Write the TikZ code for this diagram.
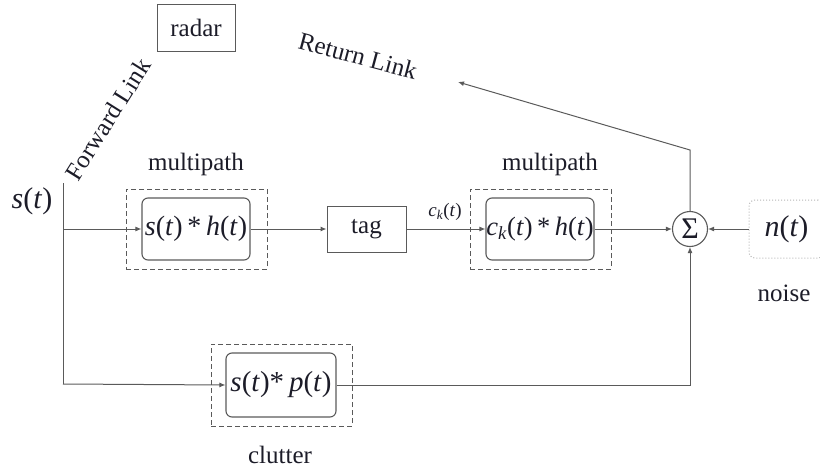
\documentclass[tikz,border=0pt]{standalone}
\usepackage{fontspec}
\setmainfont{Liberation Serif}
\usetikzlibrary{arrows.meta,calc}
\definecolor{wire}{HTML}{5A5A5A}
\definecolor{ink}{HTML}{1C1C28}
\newcommand{\mv}[1]{\textit{#1}}
\tikzset{
  wirestyle/.style={draw=wire,line width=1pt},
  flow/.style={wirestyle,-{Latex[length=6pt,width=5pt]}},
  plainbox/.style={draw=wire,line width=1pt,minimum width=#1,minimum height=46pt,inner sep=0pt,text=ink,font=\fontsize{25}{30}\selectfont},
  opbox/.style={draw=wire,line width=1.1pt,rounded corners=6pt,minimum width=#1,minimum height=62pt,inner sep=0pt,text=ink,font=\fontsize{28}{32}\selectfont},
  groupbox/.style={draw=wire,line width=1pt,dash pattern=on 5pt off 3pt,inner sep=0pt},
  caption/.style={text=ink,font=\fontsize{25}{30}\selectfont,inner sep=0pt},
  mathlabel/.style={text=ink,font=\fontsize{30}{34}\selectfont,inner sep=0pt},
}
\begin{document}
\begin{tikzpicture}[x=1pt,y=-1pt]
\useasboundingbox (0,0) rectangle (820,471);

% radar and the two links
\node[plainbox=78pt,minimum height=47pt] (radar) at (196,27.5) {radar};
\node[caption,rotate=57.8] (fwd) at (108,119) {Forward Link};
\node[caption,rotate=-15] (ret) at (358,56) {Return Link};

% source signal
\node[mathlabel] (src) at (32,201) {\mv{s}(\mv{t})};
\coordinate (top) at (63,183);
\coordinate (split) at (63,229);
\coordinate (low) at (63,384);

% multipath block before the tag
\node[groupbox,minimum width=141pt,minimum height=80pt] (mp1) at (196.5,229) {};
\node[opbox=108pt] (h1) at (196,229) {\mv{s}(\mv{t})\,*\,\mv{h}(\mv{t})};
\node[caption] (mp1lbl) at (196,164) {multipath};

% tag
\node[plainbox=79pt] (tag) at (366.5,229) {tag};
\node[text=ink,font=\fontsize{19}{22}\selectfont,inner sep=0pt] (cklbl) at (445,212) {\mv{c}\textsubscript{\mv{k}}(\mv{t})};

% multipath block after the tag
\node[groupbox,minimum width=141pt,minimum height=80pt] (mp2) at (540.5,229) {};
\node[opbox=108pt,font=\fontsize{26.5}{30}\selectfont] (h2) at (540,229) {\mv{c}\textsubscript{\mv{k}}(\mv{t})\,*\,\mv{h}(\mv{t})};
\node[caption] (mp2lbl) at (550,164) {multipath};

% clutter block
\node[groupbox,minimum width=141pt,minimum height=82pt] (cl) at (281.5,385) {};
\node[opbox=110pt,minimum height=64pt,font=\fontsize{29}{33}\selectfont] (p1) at (281,385) {\mv{s}(\mv{t})*\,\mv{p}(\mv{t})};
\node[caption] (cllbl) at (280,455) {clutter};

% summing junction and noise
\node[circle,draw=wire,line width=1.1pt,minimum size=35pt,inner sep=0pt,text=ink,font=\fontsize{30}{34}\selectfont] (sum) at (690,229) {Σ};
\node[draw=wire!45,dotted,line width=1pt,rounded corners=6pt,minimum width=75pt,minimum height=58pt,inner sep=0pt,text=ink,font=\fontsize{30}{34}\selectfont] (noise) at (786.5,229) {\mv{n}(\mv{t})};
\node[caption] (noiselbl) at (784,293) {noise};

% return path corner and end
\coordinate (bend) at (690,150);
\coordinate (retend) at (458,82);

% connectors
\draw[wirestyle] (top) -- (low);
\draw[flow] (split) -- (h1.west);
\draw[flow] (h1.east) -- (tag.west);
\draw[flow] (tag.east) -- (h2.west);
\draw[flow] (h2.east) -- (sum.west);
\draw[flow] (noise.west) -- (sum.east);
\draw[flow] (low) -- (p1.west);
\draw[flow] (p1.east) -| (sum.south);
\draw[flow] (sum.north) -- (bend) -- (retend);
\end{tikzpicture}
\end{document}
